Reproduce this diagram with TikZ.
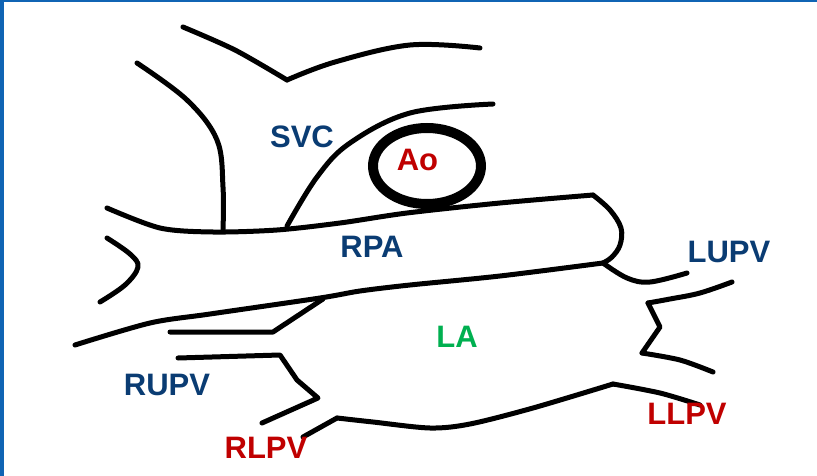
\documentclass[tikz,border=0pt]{standalone}
\usepackage{fontspec}
\setmainfont{Liberation Sans}
\definecolor{frameblue}{RGB}{16,100,180}
\definecolor{labelblue}{RGB}{10,60,115}
\definecolor{labelred}{RGB}{192,0,0}
\definecolor{labelgreen}{RGB}{0,176,80}
\tikzset{
  wall/.style={line width=5pt, line cap=round, line join=round},
  vessel/.style={line width=10pt},
  lbl/.style={inner sep=0pt, font=\bfseries\fontsize{31}{31}\selectfont},
  blue lbl/.style={lbl, text=labelblue},
  red lbl/.style={lbl, text=labelred},
  green lbl/.style={lbl, text=labelgreen}
}
\begin{document}
\begin{tikzpicture}[x=1pt, y=-1pt]
  \useasboundingbox (0,0) rectangle (817,476);
  \fill[white] (0,0) rectangle (817,476);
  % frame edges
  \fill[frameblue] (0,0) rectangle (4,476);
  \fill[frameblue] (0,0) rectangle (817,2);

  % upper outline above the SVC
  \draw[wall] plot[smooth, tension=0.5] coordinates {(183,27) (235,50) (287,80)};
  \draw[wall] plot[smooth, tension=0.6] coordinates {(287,80) (335,62) (410,45) (480,48)};

  % superior vena cava walls
  \draw[wall] plot[smooth, tension=0.6] coordinates {(137,63) (187,100) (217,140) (223,187) (223,230)};
  \draw[wall] plot[smooth, tension=0.6] coordinates {(287,226) (317,177) (350,143) (410,113) (493,104)};

  % aorta
  \draw[vessel] (427,166) ellipse [x radius=54, y radius=38];

  % right pulmonary artery, upper wall and rounded end
  \draw[wall] plot[smooth, tension=0.5] coordinates {(107,208) (160,228) (213,232) (277,230) (340,223) (407,213) (500,203) (593,195)};
  \draw[wall] plot[smooth, tension=0.6] coordinates {(593,195) (610,210) (621,228) (620,245) (612,257) (603,263)};

  % open left end of the RPA
  \draw[wall] plot[smooth, tension=0.6] coordinates {(107,238) (130,254) (138,267) (125,285) (100,302)};

  % shared wall between RPA and left atrium
  \draw[wall] plot[smooth, tension=0.5] coordinates {(75,345) (150,323) (210,314) (320,298) (360,291) (410,285) (500,276) (603,263)};

  % right upper pulmonary vein
  \draw[wall] (170,332) -- (273,332) -- (323,299);

  % right lower pulmonary vein
  \draw[wall] (178,358) -- (280,355) -- (297,380) -- (318,398) -- (262,423);

  % floor of the left atrium
  \draw[wall] (303,437) -- (337,418);
  \draw[wall] plot[smooth, tension=0.5] coordinates {(337,418) (373,422) (430,428) (470,424) (533,408) (613,384)};
  \draw[wall] plot[smooth, tension=0.5] coordinates {(613,384) (660,393) (700,405)};

  % left upper pulmonary vein
  \draw[wall] plot[smooth, tension=0.6] coordinates {(603,263) (627,278) (650,282) (687,273)};
  \draw[wall] plot[smooth, tension=0.6] coordinates {(732,282) (700,293) (670,299) (648,303)};
  \draw[wall] (648,303) -- (660,327) -- (642,353);
  \draw[wall] plot[smooth, tension=0.5] coordinates {(642,353) (680,360) (713,372)};

  % labels
  \node[blue lbl]  (svc)  at (302,137)   {SVC};
  \node[red lbl]   (ao)   at (417.5,160) {Ao};
  \node[blue lbl]  (rpa)  at (372,247)   {RPA};
  \node[blue lbl]  (lupv) at (729,252)   {LUPV};
  \node[green lbl] (la)   at (457,337)   {LA};
  \node[blue lbl]  (rupv) at (167,385)   {RUPV};
  \node[red lbl]   (rlpv) at (266,448)   {RLPV};
  \node[red lbl]   (llpv) at (687,414)   {LLPV};
\end{tikzpicture}
\end{document}
